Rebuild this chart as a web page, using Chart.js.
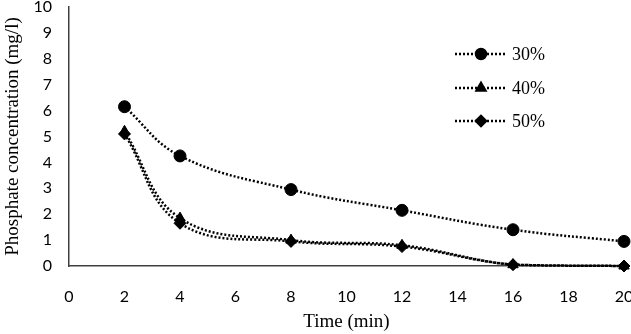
<!DOCTYPE html>
<html>
<head>
<meta charset="utf-8">
<script src="https://cdn.jsdelivr.net/npm/chart.js@4"></script>
<style>
  html, body { margin: 0; padding: 0; background: #fff; overflow: hidden; }
  #chart { display: block; }
</style>
</head>
<body>
<canvas id="chart" width="631" height="334"></canvas>
<script>
// data
const times = [2, 4, 8, 12, 16, 20];
const conc30 = [6.15, 4.25, 2.95, 2.15, 1.4, 0.95];
const conc40 = [5.2, 1.85, 1.0, 0.8, 0.05, 0];
const conc50 = [5.1, 1.65, 0.95, 0.75, 0.05, 0];
const seriesLabels = ['30%', '40%', '50%'];
const pointStyles = ['circle', 'triangle', 'rectRot'];

const serif = '"Liberation Serif", "Times New Roman", serif';
const sans = 'Lato, "Open Sans", sans-serif';

function toPoints(values) {
    return times.map((t, i) => ({ x: t, y: values[i] }));
}

function makeDataset(label, values, style, radius) {
    return {
        label: label,
        data: toPoints(values),
        borderColor: '#000',
        backgroundColor: '#000',
        borderWidth: 2.5,
        borderDash: [2, 2],
        tension: 0.4,
        pointStyle: style,
        pointRadius: radius,
        pointHoverRadius: radius,
        pointBorderWidth: 1,
        clip: 10
    };
}

// legend drawn by hand: dotted line with the marker in the middle
const sideLegend = {
    id: 'sideLegend',
    afterDraw(chart) {
        const ctx = chart.ctx;
        const rows = [54, 88, 121];
        ctx.save();
        chart.data.datasets.forEach((ds, i) => {
            const y = rows[i];
            ctx.beginPath();
            ctx.setLineDash([2, 2]);
            ctx.lineWidth = 2.5;
            ctx.strokeStyle = '#000';
            ctx.moveTo(455, y);
            ctx.lineTo(505, y);
            ctx.stroke();
            ctx.setLineDash([]);
            ctx.fillStyle = '#000';
            Chart.helpers.drawPoint(ctx, {
                pointStyle: ds.pointStyle,
                radius: 5,
                rotation: 0,
                borderWidth: 1
            }, 481, y);
            ctx.font = '18px ' + serif;
            ctx.textBaseline = 'middle';
            ctx.textAlign = 'left';
            ctx.fillStyle = '#000';
            ctx.fillText(ds.label, 512, y + 1);
        });
        ctx.restore();
    }
};

new Chart(document.getElementById('chart').getContext('2d'), {
    type: 'line',
    data: {
        datasets: [
            makeDataset(seriesLabels[0], conc30, pointStyles[0], 6),
            makeDataset(seriesLabels[1], conc40, pointStyles[1], 6),
            makeDataset(seriesLabels[2], conc50, pointStyles[2], 6)
        ]
    },
    options: {
        responsive: false,
        animation: false,
        layout: { padding: { left: 0, right: 6, top: 5, bottom: 0 } },
        plugins: {
            legend: { display: false },
            tooltip: { enabled: false }
        },
        scales: {
            x: {
                type: 'linear',
                min: 0,
                max: 20,
                grid: { display: false, drawTicks: false },
                border: { display: true, color: '#404040', width: 1.5 },
                ticks: {
                    stepSize: 2,
                    padding: 21,
                    maxRotation: 0,
                    color: '#000',
                    font: { family: sans, size: 16 }
                },
                title: {
                    display: true,
                    text: 'Time (min)',
                    color: '#000',
                    font: { family: serif, size: 19 },
                    padding: { top: 0, bottom: 1 }
                },
                afterFit(scale) {
                    scale.height = 68;
                    scale.paddingLeft = 0;
                    scale.paddingRight = 0;
                }
            },
            y: {
                min: 0,
                max: 10,
                grid: { display: false, drawTicks: false },
                border: { display: true, color: '#404040', width: 1.5 },
                ticks: {
                    stepSize: 1,
                    padding: 17,
                    color: '#000',
                    font: { family: sans, size: 16 }
                },
                title: {
                    display: true,
                    text: 'Phosphate concentration (mg/l)',
                    color: '#000',
                    font: { family: serif, size: 19 },
                    padding: { top: 2, bottom: 0 }
                },
                afterFit(scale) {
                    scale.width = 69;
                    scale.paddingTop = 0;
                    scale.paddingBottom = 0;
                }
            }
        }
    },
    plugins: [sideLegend]
});
</script>
</body>
</html>
